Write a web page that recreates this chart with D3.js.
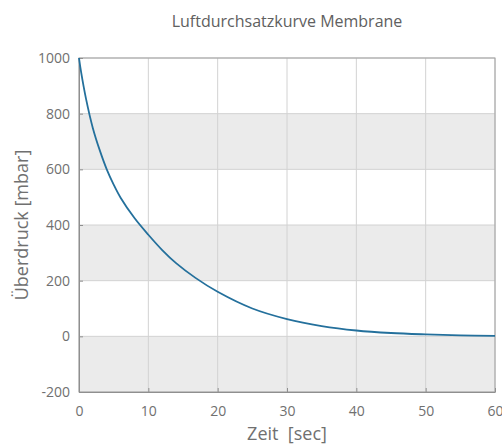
<!DOCTYPE html>
<html>
<head>
<meta charset="utf-8">
<script src="https://cdn.jsdelivr.net/npm/d3@7"></script>
<style>
  body { margin: 0; background: #fff; }
  svg { font-family: "Open Sans", sans-serif; }
</style>
</head>
<body>
<div id="chart"></div>
<script>
// values
const zeit = [0, 0.3, 1, 2, 3, 4, 5, 6, 8, 10, 12, 14, 16.8, 20, 25, 30, 35, 40, 45, 50, 55, 60];
const druck = [1000, 950, 855, 748, 668, 600, 545, 498, 425, 365, 310, 263, 210, 160, 100, 62, 37, 21, 12, 7, 3.5, 1.5];
const xTicks = [0, 10, 20, 30, 40, 50, 60];
const yTicks = [-200, 0, 200, 400, 600, 800, 1000];
const bands = [[600, 800], [200, 400], [-200, 0]];

const width = 502, height = 446;
const margin = { top: 58, right: 7, bottom: 54, left: 79 };

const svg = d3.select("#chart").append("svg")
  .attr("width", width)
  .attr("height", height);

const x = d3.scaleLinear().domain([0, 60]).range([margin.left, width - margin.right]);
const y = d3.scaleLinear().domain([-200, 1000]).range([height - margin.bottom, margin.top]);

// grey bands
svg.append("g")
  .selectAll("rect")
  .data(bands)
  .enter().append("rect")
  .attr("x", x(0))
  .attr("width", x(60) - x(0))
  .attr("y", d => y(d[1]))
  .attr("height", d => y(d[0]) - y(d[1]))
  .attr("fill", "#ebebeb");

// grid
svg.append("g")
  .selectAll("line")
  .data(xTicks)
  .enter().append("line")
  .attr("x1", d => x(d)).attr("x2", d => x(d))
  .attr("y1", y(1000)).attr("y2", y(-200))
  .attr("stroke", "#d2d2d2");

svg.append("g")
  .selectAll("line")
  .data(yTicks)
  .enter().append("line")
  .attr("x1", x(0)).attr("x2", x(60))
  .attr("y1", d => y(d)).attr("y2", d => y(d))
  .attr("stroke", "#d2d2d2");

// box
svg.append("rect")
  .attr("x", x(0)).attr("y", y(1000))
  .attr("width", x(60) - x(0)).attr("height", y(-200) - y(1000))
  .attr("fill", "none")
  .attr("stroke", "#a0a0a0");

// axes
const xAxis = svg.append("g")
  .attr("transform", `translate(0,${y(-200)})`)
  .call(d3.axisBottom(x).tickValues(xTicks).tickSizeInner(-4).tickSizeOuter(0).tickPadding(14));
const yAxis = svg.append("g")
  .attr("transform", `translate(${x(0)},0)`)
  .call(d3.axisLeft(y).tickValues(yTicks).tickFormat(d => String(d))
    .tickSizeInner(-4).tickSizeOuter(0).tickPadding(9));

[xAxis, yAxis].forEach(a => {
  a.select(".domain").attr("stroke", "#8f8f8f");
  a.selectAll(".tick line").attr("stroke", "#8f8f8f");
  a.selectAll("text").attr("fill", "#707070").style("font-size", "14px")
    .style("font-family", "'Open Sans', sans-serif");
});

// curve
const line = d3.line()
  .x((d, i) => x(zeit[i]))
  .y(d => y(d))
  .curve(d3.curveCatmullRom.alpha(0.5));

svg.append("path")
  .datum(druck)
  .attr("d", line)
  .attr("fill", "none")
  .attr("stroke", "#24709c")
  .attr("stroke-width", 1.8);

// labels
svg.append("text")
  .attr("x", (x(0) + x(60)) / 2)
  .attr("y", 27)
  .attr("text-anchor", "middle")
  .attr("fill", "#606060")
  .style("font-size", "16px")
  .text("Luftdurchsatzkurve Membrane");

svg.append("text")
  .attr("x", (x(0) + x(60)) / 2)
  .attr("y", 440)
  .attr("text-anchor", "middle")
  .attr("fill", "#707070")
  .style("font-size", "18px")
  .style("white-space", "pre")
  .text("Zeit  [sec]");

svg.append("text")
  .attr("transform", `translate(28,${(y(1000) + y(-200)) / 2}) rotate(-90)`)
  .attr("text-anchor", "middle")
  .attr("fill", "#707070")
  .style("font-size", "18px")
  .text("Überdruck [mbar]");
</script>
</body>
</html>
